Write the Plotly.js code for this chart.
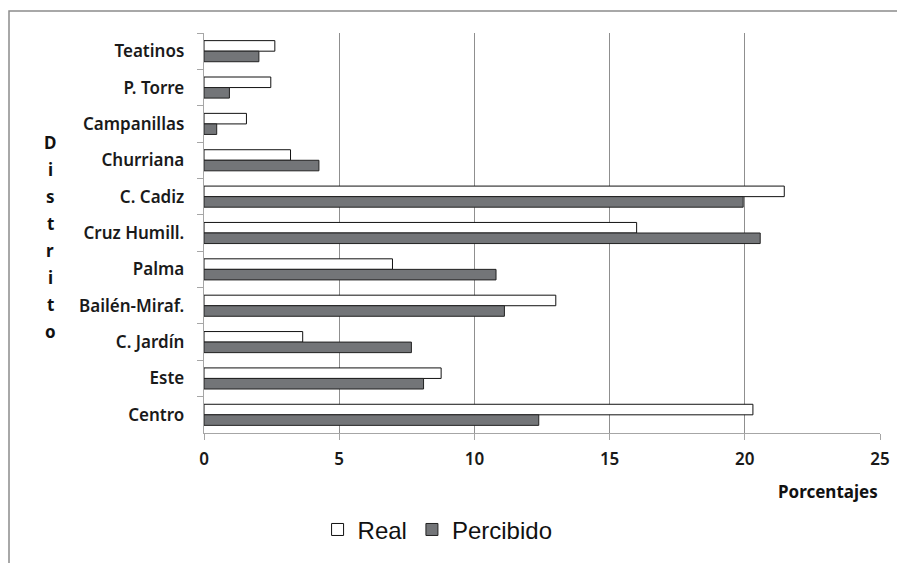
<!DOCTYPE html>
<html>
<head>
<meta charset="utf-8">
<script src="https://cdn.plot.ly/plotly-3.0.1.min.js"></script>
<style>html,body{margin:0;padding:0;background:#fff;}#chart{width:897px;height:563px;}</style>
</head>
<body>
<div id="chart"></div>
<script>
var distritos = ["Teatinos","P. Torre","Campanillas","Churriana","C. Cadiz","Cruz Humill.","Palma","Bailén-Miraf.","C. Jardín","Este","Centro"];
var real =      [2.62, 2.47, 1.57, 3.2, 21.46, 16.0, 6.97, 13.01, 3.65, 8.77, 20.3];
var percibido = [2.03, 0.94, 0.47, 4.25, 19.94, 20.57, 10.8, 11.11, 7.67, 8.12, 12.38];
var xTicks = [0, 5, 10, 15, 20, 25];
var yTitle = "Distrito";
var xTitle = "Porcentajes";

var labelFont = {family: "Noto Sans, Open Sans, sans-serif", size: 17, color: "#1a1a1a", weight: 600};

var traces = [
  {type: "bar", orientation: "h", name: "Real", y: distritos, x: real,
   marker: {color: "#ffffff", line: {color: "#111111", width: 1}}},
  {type: "bar", orientation: "h", name: "Percibido", y: distritos, x: percibido,
   marker: {color: "#737578", line: {color: "#222222", width: 1}}}
];

// vertical stacked letters of the y title
var plotTop = 33, plotH = 401;
var annotations = yTitle.split("").map(function (ch, i) {
  var py = 143 + i * 27; // pixel centre of each letter
  return {xref: "paper", yref: "paper", x: (50 - 204) / 676, y: (plotTop + plotH - py) / plotH,
          xanchor: "center", yanchor: "middle", showarrow: false, text: "<b>" + ch + "</b>",
          font: {family: "Noto Sans, Open Sans, sans-serif", size: 17, color: "#111"}};
});
annotations.push({xref: "paper", yref: "paper", x: 1, y: -0.147, xanchor: "right", yanchor: "middle",
  text: "<b>" + xTitle + "</b>", showarrow: false,
  font: {family: "Noto Sans, Open Sans, sans-serif", size: 17, color: "#111"}});

var layout = {
  width: 897, height: 563,
  margin: {l: 204, r: 17, t: 33, b: 129},
  paper_bgcolor: "#ffffff", plot_bgcolor: "#ffffff",
  barmode: "group", bargap: 0.42, bargroupgap: 0,
  showlegend: true,
  legend: {orientation: "h", x: 0.168, y: -0.183, xanchor: "left", yanchor: "top",
           font: {family: "Liberation Sans, Arial, sans-serif", size: 24, color: "#111"},
           itemwidth: 30, tracegroupgap: 0},
  xaxis: {range: [0, 25], tickvals: xTicks, ticktext: xTicks.map(String),
          showgrid: true, gridcolor: "#8f8f8f", gridwidth: 1.2,
          showline: true, linecolor: "#a6a6a6", linewidth: 1.3,
          ticks: "outside", ticklen: 6, tickcolor: "#a6a6a6",
          zeroline: false, tickfont: labelFont, ticklabelstandoff: 4, fixedrange: true},
  yaxis: {type: "category", categoryorder: "array", categoryarray: distritos,
          autorange: "reversed", tickson: "boundaries",
          ticks: "outside", ticklen: 6, tickcolor: "#a6a6a6",
          showline: true, linecolor: "#a6a6a6", linewidth: 1.3,
          showgrid: false, zeroline: false, tickfont: labelFont,
          ticklabelstandoff: 15, fixedrange: true},
  annotations: annotations,
  shapes: [
    {type: "rect", xref: "paper", yref: "paper", x0: (9 - 204) / 676, x1: 1.2, y0: -0.6, y1: (434 - 11) / 401,
     line: {color: "#8c8c8c", width: 1.5}, fillcolor: "rgba(0,0,0,0)", layer: "below"}
  ]
};

Plotly.newPlot("chart", traces, layout, {displayModeBar: false, staticPlot: true});
</script>
</body>
</html>
